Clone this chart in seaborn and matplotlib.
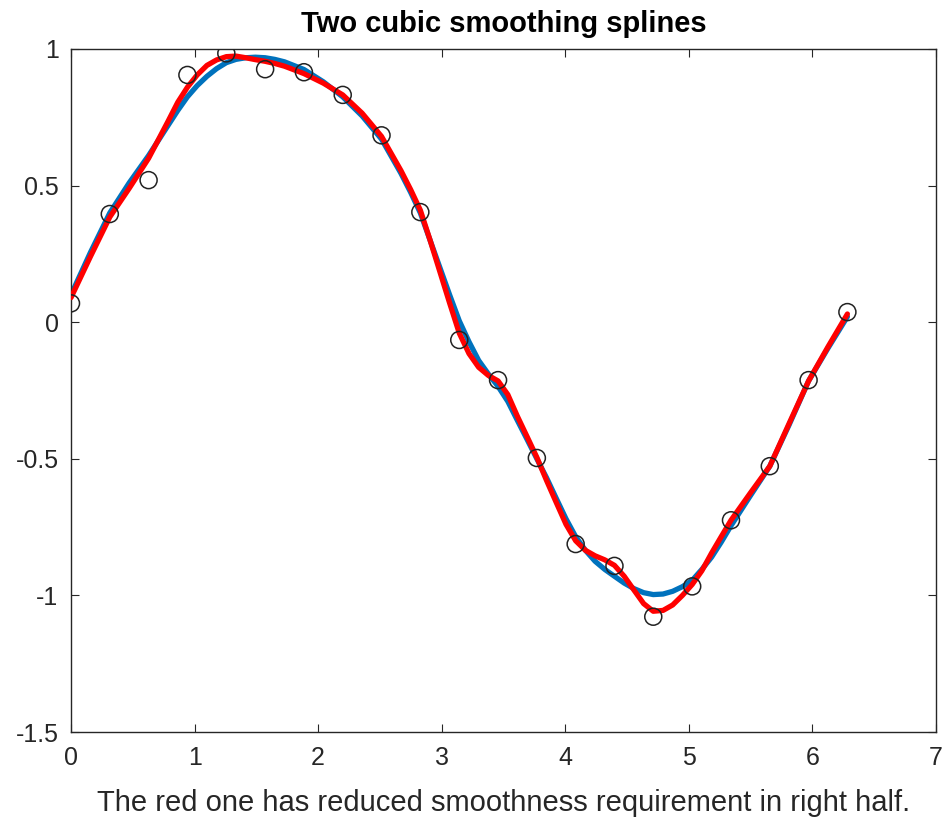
import matplotlib
matplotlib.use("Agg")
import matplotlib.pyplot as plt
import seaborn as sns
import pandas as pd

# data points (noisy samples)
pts_x = [0.000, 0.314, 0.628, 0.942, 1.257, 1.571, 1.885, 2.199, 2.513, 2.827, 3.142,
         3.456, 3.770, 4.084, 4.398, 4.712, 5.027, 5.341, 5.655, 5.969, 6.283]
pts_y = [0.069, 0.396, 0.520, 0.905, 0.984, 0.926, 0.915, 0.832, 0.684, 0.403, -0.065,
         -0.212, -0.497, -0.812, -0.892, -1.078, -0.967, -0.725, -0.527, -0.212, 0.037]

# spline curves
curve_x = [0.000, 0.157, 0.314, 0.471, 0.628, 0.785, 0.864, 0.942, 1.021, 1.100, 1.178,
           1.257, 1.335, 1.414, 1.492, 1.571, 1.649, 1.728, 1.885, 2.042, 2.199, 2.356,
           2.513, 2.670, 2.749, 2.827, 2.906, 2.985, 3.064, 3.142, 3.221, 3.299, 3.378,
           3.456, 3.535, 3.613, 3.692, 3.770, 3.849, 3.927, 4.006, 4.084, 4.163, 4.241,
           4.320, 4.398, 4.477, 4.555, 4.634, 4.712, 4.791, 4.869, 4.948, 5.027, 5.105,
           5.184, 5.262, 5.341, 5.498, 5.655, 5.812, 5.969, 6.126, 6.283]
blue_y = [0.100, 0.255, 0.400, 0.510, 0.610, 0.720, 0.775, 0.825, 0.866, 0.900, 0.928,
          0.950, 0.962, 0.968, 0.970, 0.968, 0.962, 0.953, 0.925, 0.880, 0.825, 0.755,
          0.670, 0.545, 0.475, 0.400, 0.300, 0.200, 0.100, 0.005, -0.072, -0.140, -0.190,
          -0.235, -0.290, -0.360, -0.430, -0.500, -0.570, -0.645, -0.720, -0.785, -0.835, -0.875,
          -0.905, -0.930, -0.955, -0.975, -0.990, -0.997, -0.995, -0.985, -0.968, -0.945, -0.905,
          -0.860, -0.805, -0.745, -0.635, -0.527, -0.375, -0.215, -0.095, 0.020]
red_y = [0.090, 0.240, 0.385, 0.490, 0.600, 0.735, 0.805, 0.860, 0.905, 0.940, 0.960,
         0.972, 0.974, 0.968, 0.961, 0.955, 0.947, 0.937, 0.910, 0.875, 0.832, 0.765,
         0.680, 0.555, 0.485, 0.410, 0.300, 0.185, 0.070, -0.040, -0.115, -0.165, -0.195,
         -0.215, -0.265, -0.345, -0.420, -0.495, -0.580, -0.660, -0.740, -0.800, -0.835, -0.855,
         -0.870, -0.890, -0.930, -0.980, -1.030, -1.058, -1.055, -1.035, -1.000, -0.960, -0.910,
         -0.845, -0.785, -0.725, -0.625, -0.527, -0.370, -0.215, -0.090, 0.030]

title = "Two cubic smoothing splines"
xlabel = "The red one has reduced smoothness requirement in right half."
xticks = [0, 1, 2, 3, 4, 5, 6, 7]
yticks = [-1.5, -1, -0.5, 0, 0.5, 1]
ytick_labels = ["-1.5", "-1", "-0.5", "0", "0.5", "1"]

sns.set_style("white")
plt.rcParams['font.family'] = ['Liberation Sans', 'DejaVu Sans']

fig = plt.figure(figsize=(9.46, 8.19), dpi=100)
ax = fig.add_axes([71/946, 1-732/819, (936-71)/946, (732-49)/819])

df_b = pd.DataFrame({"x": curve_x, "y": blue_y})
df_r = pd.DataFrame({"x": curve_x, "y": red_y})
df_p = pd.DataFrame({"x": pts_x, "y": pts_y})

sns.lineplot(data=df_b, x="x", y="y", ax=ax, color="#0072BD", linewidth=3.8,
             estimator=None, sort=False, zorder=2)
sns.lineplot(data=df_r, x="x", y="y", ax=ax, color="#FF0000", linewidth=3.8,
             estimator=None, sort=False, zorder=3)
for ln in ax.lines:
    ln.set_solid_joinstyle("round")
    ln.set_solid_capstyle("round")
sns.scatterplot(data=df_p, x="x", y="y", ax=ax, marker="o", s=150,
                edgecolor="#222222", linewidth=1.1, zorder=4)
ax.collections[-1].set_facecolor("none")

ax.set_xlim(0, 7)
ax.set_ylim(-1.5, 1)
ax.set_xticks(xticks)
ax.set_xticklabels([str(t) for t in xticks])
ax.set_yticks(yticks)
ax.set_yticklabels(ytick_labels)

for s in ax.spines.values():
    s.set_visible(True)
    s.set_color("#262626")
    s.set_linewidth(1.0)

ax.tick_params(direction="in", length=5.5, width=0.8, color="#262626",
               labelcolor="#262626", labelsize=18, top=True, right=True,
               bottom=True, left=True)
ax.tick_params(axis="x", pad=10)
ax.tick_params(axis="y", pad=9)

ax.set_title(title, fontsize=21, fontweight="bold", pad=12, color="#000000")
ax.set_xlabel(xlabel, fontsize=21, color="#262626", labelpad=14)
ax.set_ylabel("")

fig.savefig("out.png", dpi=100)
